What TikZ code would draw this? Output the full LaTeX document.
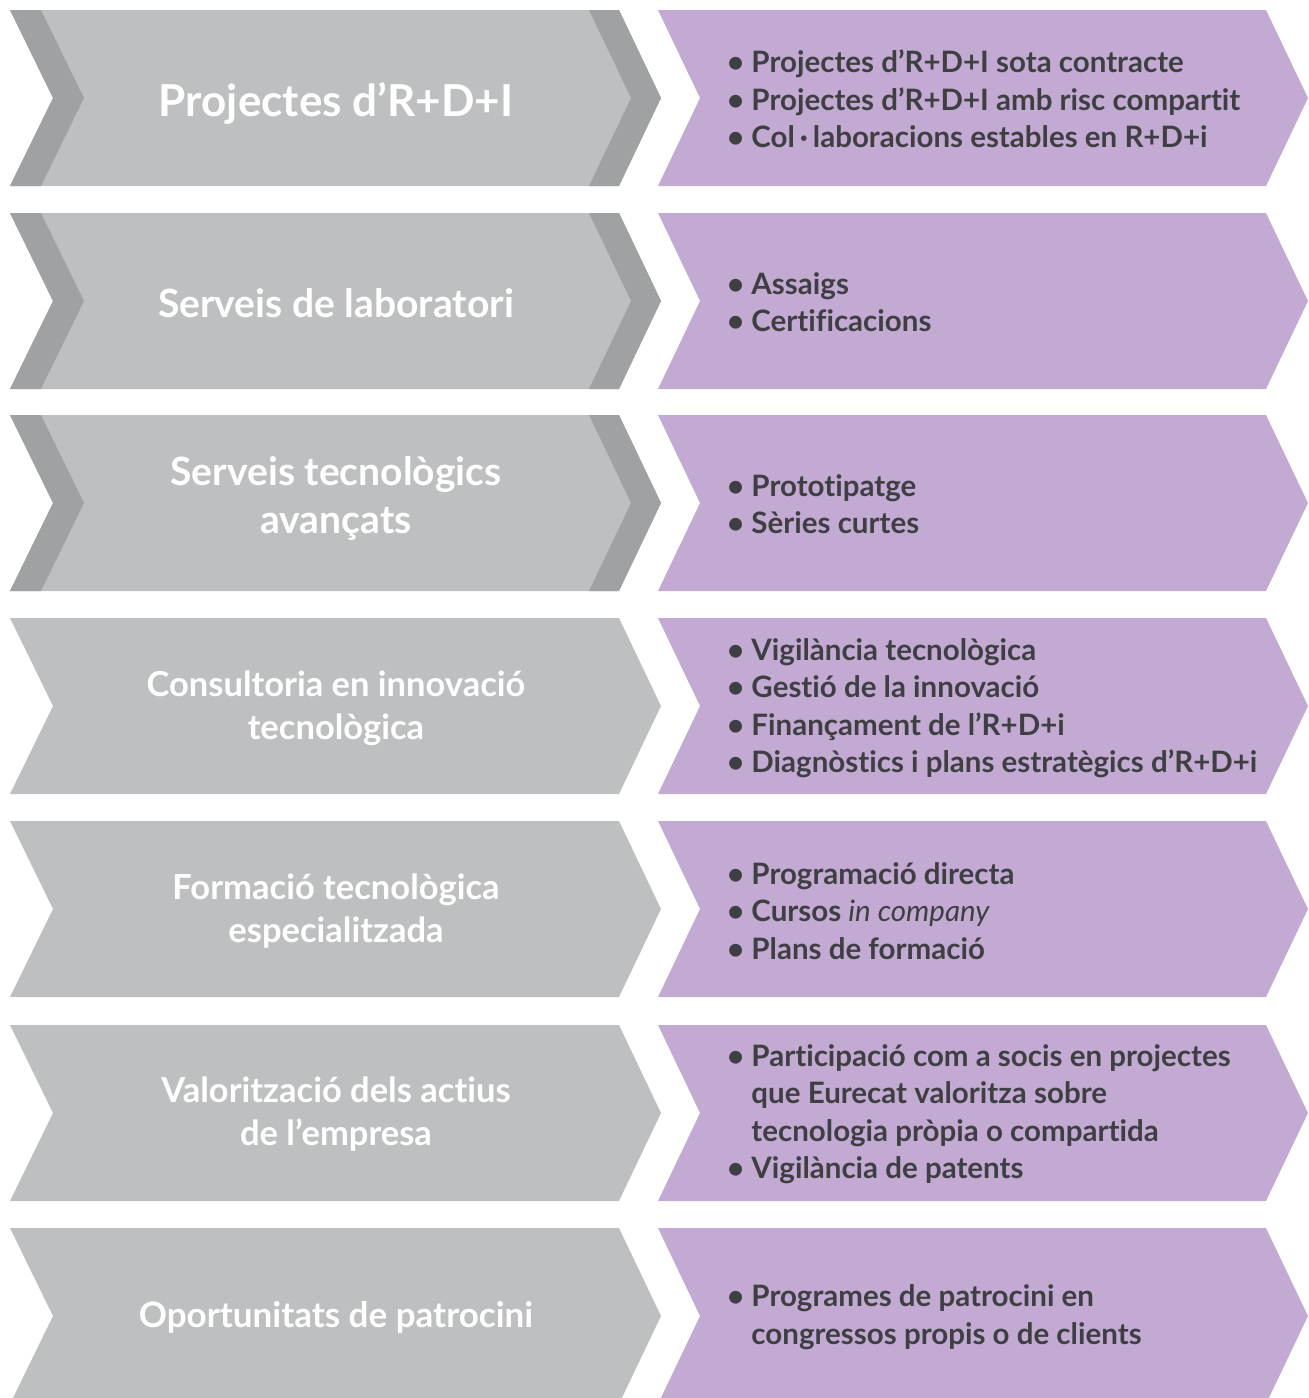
\documentclass[tikz,border=0pt]{standalone}
\usepackage{fontspec}
\setmainfont{Lato}[Ligatures=NoCommon]
\usepackage{xcolor}
\definecolor{chevgray}{HTML}{BEBFC1}
\definecolor{chevdark}{HTML}{A0A1A3}
\definecolor{chevlilac}{HTML}{C2AAD3}
\definecolor{itemtext}{HTML}{3F3F43}
\newcommand{\itm}{\textbullet\ }
\newcommand{\cont}{\phantom{\textbullet}\ }

\begin{document}
\begin{tikzpicture}[x=1pt, y=-1pt, font=\bfseries]
\tikzset{labnode/.style={text=white, align=center, font=\bfseries\fontsize{34.5}{43}\selectfont}}
\tikzset{itemnode/.style={anchor=west, text=itemtext, align=left, inner sep=0pt, font=\bfseries\fontsize{29.5}{37.5}\selectfont}}
\useasboundingbox (0,0) rectangle (1309,1398);
% chevrons
\foreach \t in {10,213,415,618,821,1025,1228} {
  \fill[chevgray] (10,\t) -- ++(609,0) -- ++(42,88) -- ++(-42,88) -- ++(-609,0) -- ++(43,-88) -- cycle;
  \fill[chevlilac] (658,\t) -- ++(608,0) -- ++(42,88) -- ++(-42,88) -- ++(-608,0) -- ++(42,-88) -- cycle;
}
% darker edges on the first three
\foreach \t in {10,213,415} {
  \fill[chevdark] (10,\t) -- ++(31,0) -- ++(43,88) -- ++(-43,88) -- ++(-31,0) -- ++(43,-88) -- cycle;
  \fill[chevdark] (589,\t) -- ++(30,0) -- ++(42,88) -- ++(-42,88) -- ++(-30,0) -- ++(42,-88) -- cycle;
}
% left labels
\node[labnode, font=\bfseries\fontsize{44}{48}\selectfont] (lab1) at (336,103) {Projectes d’R+D+I};
\node[labnode, font=\bfseries\fontsize{39}{48}\selectfont] (lab2) at (336,303) {Serveis de laboratori};
\node[labnode, font=\bfseries\fontsize{39}{48}\selectfont] (lab3) at (336,498) {Serveis tecnològics\\avançats};
\node[labnode] (lab4) at (336,708) {Consultoria en innovació\\tecnològica};
\node[labnode] (lab5) at (336,911) {Formació tecnològica\\especialitzada};
\node[labnode] (lab6) at (336,1114) {Valorització dels actius\\de l’empresa};
\node[labnode, font=\bfseries\fontsize{35}{43}\selectfont] (lab7) at (336,1317) {Oportunitats de patrocini};
% right lists
\node[itemnode] (list1) at (727,99) {\itm Projectes d’R+D+I sota contracte\\\itm Projectes d’R+D+I amb risc compartit\\\itm Col\,·\,laboracions estables en R+D+i};
\node[itemnode] (list2) at (727,302) {\itm Assaigs\\\itm Certificacions};
\node[itemnode] (list3) at (727,504) {\itm Prototipatge\\\itm Sèries curtes};
\node[itemnode] (list4) at (727,708) {\itm Vigilància tecnològica\\\itm Gestió de la innovació\\\itm Finançament de l’R+D+i\\\itm Diagnòstics i plans estratègics d’R+D+i};
\node[itemnode] (list5) at (727,911) {\itm Programació directa\\\itm Cursos {\mdseries\itshape in company}\\\itm Plans de formació};
\node[itemnode] (list6) at (727,1114) {\itm Participació com a socis en projectes\\\cont que Eurecat valoritza sobre\\\cont tecnologia pròpia o compartida\\\itm Vigilància de patents};
\node[itemnode] (list7) at (727,1317) {\itm Programes de patrocini en\\\cont congressos propis o de clients};
\end{tikzpicture}
\end{document}
